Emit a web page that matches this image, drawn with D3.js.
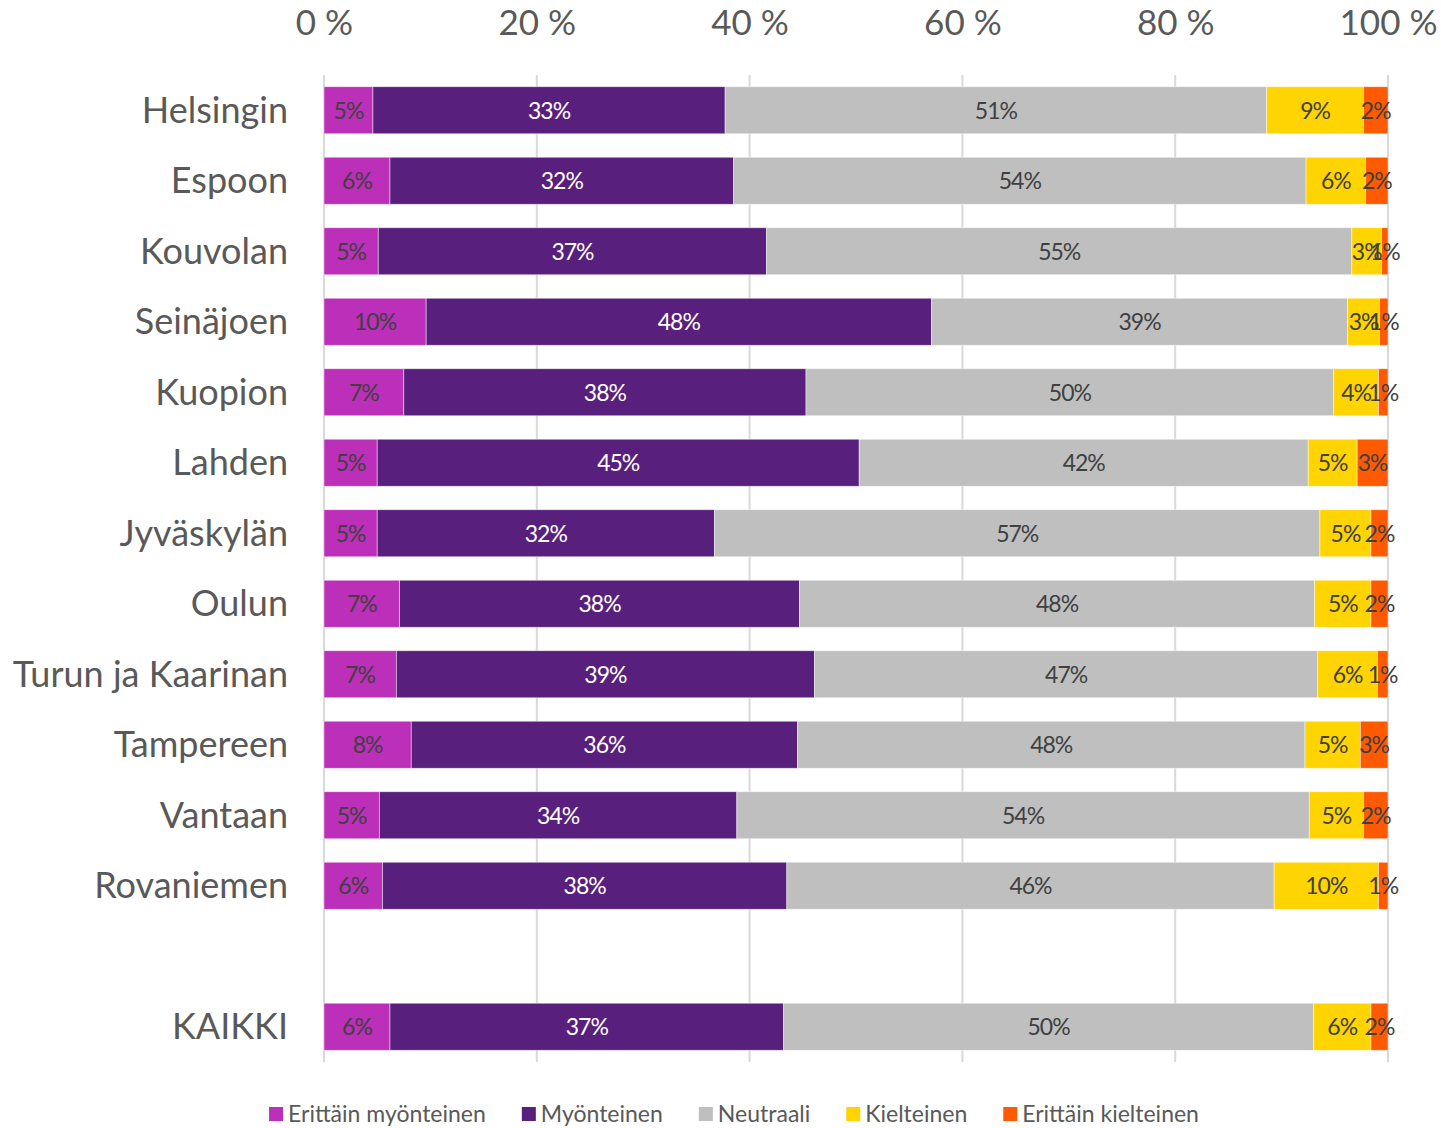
<!DOCTYPE html>
<html>
<head>
<meta charset="utf-8">
<script src="https://cdn.jsdelivr.net/npm/d3@7"></script>
<style>
  body { margin: 0; background: #fff; }
  svg text { font-family: Lato, "Open Sans", sans-serif; }
</style>
</head>
<body>
<div id="chart"></div>
<script>
// categories top to bottom, "" is the empty spacer row before KAIKKI
var categories = ['Helsingin', 'Espoon', 'Kouvolan', 'Seinäjoen', 'Kuopion', 'Lahden', 'Jyväskylän',
    'Oulun', 'Turun ja Kaarinan', 'Tampereen', 'Vantaan', 'Rovaniemen', '', 'KAIKKI'];

var seriesNames = ['Erittäin myönteinen', 'Myönteinen', 'Neutraali', 'Kielteinen', 'Erittäin kielteinen'];
var seriesColors = ['#bc2fb8', '#58207c', '#bfbfbf', '#ffd400', '#ff5a00'];
var labelColors = ['#404040', '#ffffff', '#404040', '#404040', '#404040'];

// shares in %, one array per series, same order as categories
var erittainMyonteinen = [4.6, 6.2, 5.1, 9.6, 7.5, 5.0, 5.0, 7.1, 6.8, 8.2, 5.2, 5.5, null, 6.2];
var myonteinen         = [33.1, 32.3, 36.5, 47.5, 37.8, 45.3, 31.7, 37.6, 39.3, 36.3, 33.6, 38.0, null, 37.0];
var neutraali          = [50.9, 53.8, 55.0, 39.1, 49.6, 42.2, 56.9, 48.4, 47.3, 47.7, 53.8, 45.8, null, 49.8];
var kielteinen         = [9.1, 5.6, 2.8, 3.0, 4.2, 4.6, 4.8, 5.3, 5.6, 5.2, 5.1, 9.8, null, 5.4];
var erittainKielteinen = [2.3, 2.1, 0.6, 0.8, 0.9, 2.9, 1.6, 1.6, 1.0, 2.6, 2.3, 0.9, null, 1.6];

// printed data labels (rounded as in the source)
var labelsEM = ['5%', '6%', '5%', '10%', '7%', '5%', '5%', '7%', '7%', '8%', '5%', '6%', '', '6%'];
var labelsM  = ['33%', '32%', '37%', '48%', '38%', '45%', '32%', '38%', '39%', '36%', '34%', '38%', '', '37%'];
var labelsN  = ['51%', '54%', '55%', '39%', '50%', '42%', '57%', '48%', '47%', '48%', '54%', '46%', '', '50%'];
var labelsK  = ['9%', '6%', '3%', '3%', '4%', '5%', '5%', '5%', '6%', '5%', '5%', '10%', '', '6%'];
var labelsEK = ['2%', '2%', '1%', '1%', '1%', '3%', '2%', '2%', '1%', '3%', '2%', '1%', '', '2%'];

var xTicks = [0, 20, 40, 60, 80, 100];

var seriesValues = [erittainMyonteinen, myonteinen, neutraali, kielteinen, erittainKielteinen];
var seriesLabels = [labelsEM, labelsM, labelsN, labelsK, labelsEK];

var width = 1441, height = 1128;
var margin = {top: 75, right: 53, bottom: 66, left: 324};

var svg = d3.select('#chart').append('svg')
    .attr('width', width)
    .attr('height', height);

var x = d3.scaleLinear()
    .domain([0, 100])
    .range([margin.left, width - margin.right]);

var y = d3.scaleBand()
    .domain(d3.range(categories.length))
    .range([margin.top, height - margin.bottom])
    .paddingInner(0.333)
    .paddingOuter(0.1665);

// gridlines
svg.append('g')
    .selectAll('line')
    .data(xTicks)
    .enter().append('line')
    .attr('x1', function (d) { return x(d); })
    .attr('x2', function (d) { return x(d); })
    .attr('y1', margin.top)
    .attr('y2', height - margin.bottom)
    .attr('stroke', '#d9d9d9')
    .attr('stroke-width', 2);

// top axis labels
var xAxis = d3.axisTop(x)
    .tickValues(xTicks)
    .tickSize(0)
    .tickFormat(function (d) { return d + ' %'; });

var axisG = svg.append('g')
    .attr('transform', 'translate(0,' + 38 + ')')
    .call(xAxis);
axisG.select('.domain').remove();
axisG.selectAll('text')
    .attr('dy', 0)
    .attr('fill', '#595959')
    .style('font-size', '35px');

// stack the series
var rows = categories.map(function (c, i) {
    var start = 0;
    return seriesValues.map(function (vals, s) {
        var v = vals[i];
        var seg = {row: i, series: s, x0: start, x1: v == null ? start : start + v, label: seriesLabels[s][i]};
        start = seg.x1;
        return seg;
    });
});

var segments = [];
rows.forEach(function (r) {
    r.forEach(function (seg) {
        if (seg.x1 > seg.x0) segments.push(seg);
    });
});

var bars = svg.append('g');

bars.selectAll('rect')
    .data(segments)
    .enter().append('rect')
    .attr('x', function (d) { return x(d.x0); })
    .attr('width', function (d) { return x(d.x1) - x(d.x0); })
    .attr('y', function (d) { return y(d.row); })
    .attr('height', y.bandwidth())
    .attr('fill', function (d) { return seriesColors[d.series]; })
    .attr('stroke', 'rgba(255,255,255,0.6)')
    .attr('stroke-width', 0.75);

bars.selectAll('text')
    .data(segments)
    .enter().append('text')
    .attr('x', function (d) { return (x(d.x0) + x(d.x1)) / 2; })
    .attr('y', function (d) { return y(d.row) + y.bandwidth() / 2; })
    .attr('dy', '0.36em')
    .attr('text-anchor', 'middle')
    .attr('fill', function (d) { return labelColors[d.series]; })
    .style('font-size', '23px')
    .style('letter-spacing', '-1px')
    .text(function (d) { return d.label; });

// category labels
svg.append('g')
    .selectAll('text')
    .data(categories)
    .enter().append('text')
    .attr('x', 288)
    .attr('y', function (d, i) { return y(i) + y.bandwidth() / 2; })
    .attr('dy', '0.35em')
    .attr('text-anchor', 'end')
    .attr('fill', '#595959')
    .style('font-size', '36px')
    .text(function (d) { return d; });

// legend
var legend = svg.append('g')
    .attr('transform', 'translate(0,1114)');

var items = legend.selectAll('g')
    .data(seriesNames)
    .enter().append('g');

items.append('rect')
    .attr('width', 14)
    .attr('height', 14)
    .attr('y', -7)
    .attr('fill', function (d, i) { return seriesColors[i]; });

items.append('text')
    .attr('x', 19)
    .attr('dy', '0.35em')
    .attr('fill', '#595959')
    .style('font-size', '23px')
    .text(function (d) { return d; });

var pos = 0;
var offsets = [];
items.each(function () {
    offsets.push(pos);
    pos += this.getBBox().width + 36;
});
var total = pos - 36;
var startX = 734 - total / 2;
items.attr('transform', function (d, i) { return 'translate(' + (startX + offsets[i]) + ',0)'; });
</script>
</body>
</html>
